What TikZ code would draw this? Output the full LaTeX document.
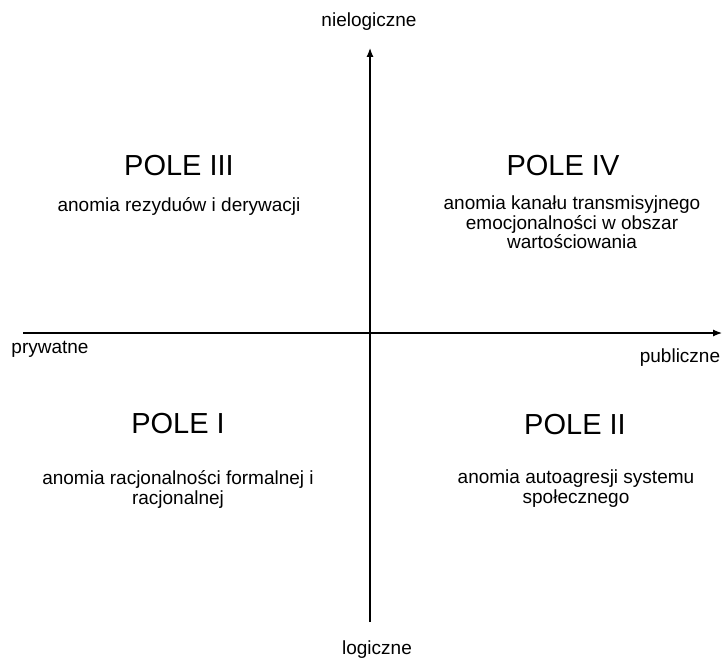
\documentclass[tikz,border=0pt]{standalone}
\usepackage{fontspec}
\setmainfont{Liberation Sans}
\usetikzlibrary{arrows.meta,positioning}

\begin{document}
\begin{tikzpicture}[x=1pt,y=-1pt,
  axis/.style={line width=1.2pt,-{Latex[length=9pt,width=7pt]}},
  pole/.style={anchor=base,font=\fontsize{29}{34}\selectfont},
  opis/.style={anchor=base,align=center,font=\fontsize{19}{19.7}\selectfont},
  oslabel/.style={anchor=base,font=\fontsize{19}{20}\selectfont}]
\useasboundingbox (0,0) rectangle (724,658);
% axes
\coordinate (lewy) at (23,333);
\coordinate (prawy) at (722,333);
\coordinate (dol) at (370,622);
\coordinate (gora) at (370,48);
\draw[axis] (lewy) -- (prawy);
\draw[axis] (dol) -- (gora);
\node[oslabel] (nielog) at (369,27) {nielogiczne};
\node[oslabel] (log) at (377,654) {logiczne};
\node[oslabel] (pryw) at (50,353) {prywatne};
\node[oslabel] (publ) at (680,362) {publiczne};
% fields (base = last line)
\foreach \N/\X/\Y/\W/\Z/\T in
{III/179/176/179/212/anomia rezyduów i derywacji,
 IV/563/176/572/249/anomia kanału transmisyjnego\\emocjonalności w obszar\\wartościowania,
 I/178/433/178/504/anomia racjonalności formalnej i\\racjonalnej,
 II/575/434/576/503/anomia autoagresji systemu\\społecznego}
  {\node[pole] (P-\N) at (\X,\Y) {POLE \N};
  \node[opis] (O-\N) at (\W,\Z) {\T};}
\end{tikzpicture}
\end{document}
